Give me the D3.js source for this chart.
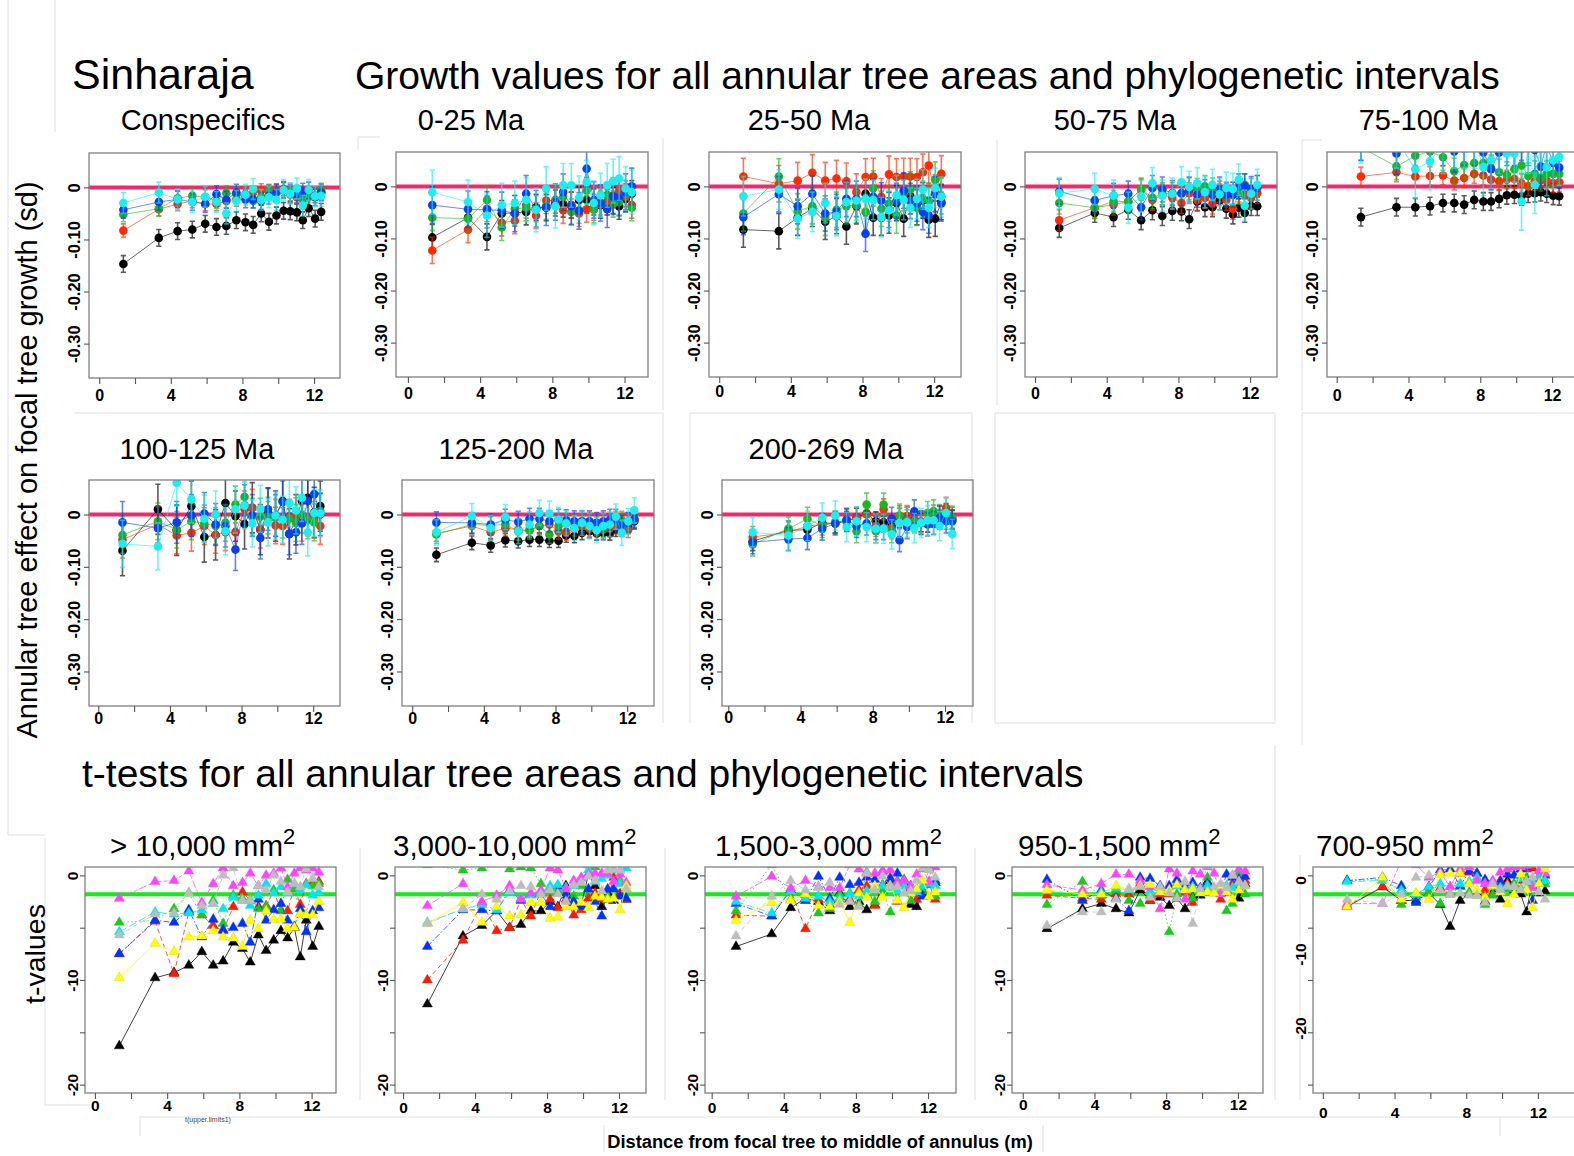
<!DOCTYPE html>
<html><head><meta charset="utf-8">
<script src="https://cdn.jsdelivr.net/npm/d3@7"></script>
<style>body{margin:0;background:#fff}svg{display:block}</style>
</head><body>
<svg id="c" width="1574" height="1156"></svg>
<script>
// ---------------- DATA ----------------
const distance = [1.35,3.33,4.38,5.2,5.92,6.55,7.1,7.66,8.17,8.6,9.05,9.48,9.9,10.3,10.67,11.04,11.37,11.7,12.06,12.4];
const sizeClasses = [">10,000","3,000-10,000","1,500-3,000","950-1,500","700-950"];
const sizeColors = ["#000000","#ff2a00","#1fb41f","#0b3df2","#1aeeee"];
const intervals = ["Conspecifics","0-25 Ma","25-50 Ma","50-75 Ma","75-100 Ma","100-125 Ma","125-200 Ma","200-269 Ma"];
const intervalColors = ["#000000","#ff1a00","#1ec81e","#0033ff","#00e8ee","#ff44ff","#ffff00","#bdbdbd"];
const intervalDash = [null,"5,3","1.5,2.5","6,2,1.5,2","8,3","4,2,8,2",null,"5,3"];
const xTicks = [0,2,4,6,8,10,12];
const xLabelTicks = [0,4,8,12];
const growthYTicks = [0,-0.1,-0.2,-0.3];
const tYTicks = [0,-5,-10,-15,-20];
const tYLabelTicks = [0,-10,-20];
const growthYDomain = [-0.366,0.066];
const tYDomain = [-20.8,0.8];
const zeroEffect = 0;
const tCritical = -1.8;

// growth values: series order = size classes (black, red, green, blue, cyan)
const growthConspecifics = [
 [-0.147,-0.097,-0.084,-0.081,-0.070,-0.076,-0.074,-0.063,-0.067,-0.072,-0.050,-0.066,-0.054,-0.045,-0.046,-0.048,-0.063,-0.040,-0.060,-0.047],
 [-0.083,-0.042,-0.032,-0.026,-0.032,-0.032,-0.026,-0.023,-0.016,-0.010,-0.006,-0.008,-0.006,-0.003,-0.013,-0.019,-0.023,-0.013,-0.016,-0.010],
 [-0.052,-0.041,-0.021,-0.016,-0.019,-0.026,-0.011,-0.013,-0.013,-0.026,-0.019,-0.008,-0.010,-0.005,-0.006,-0.010,-0.019,-0.016,-0.016,-0.006],
 [-0.043,-0.028,-0.023,-0.028,-0.032,-0.013,-0.024,-0.010,-0.023,-0.023,-0.026,-0.016,-0.010,-0.005,-0.011,-0.013,-0.008,-0.006,-0.019,-0.010],
 [-0.030,-0.010,-0.023,-0.028,-0.018,-0.028,-0.050,-0.026,-0.014,-0.003,-0.024,-0.019,-0.024,-0.005,-0.012,-0.002,-0.035,-0.005,-0.017,-0.016]];
const seConspecifics = [0.016,0.013,0.014,0.016,0.02];
const growth0to25 = [
 [-0.098,-0.060,-0.097,-0.052,-0.051,-0.049,-0.040,-0.041,-0.032,-0.034,-0.036,-0.026,-0.026,-0.030,-0.036,-0.030,-0.027,-0.038,-0.024,-0.014],
 [-0.123,-0.083,-0.043,-0.070,-0.066,-0.036,-0.056,-0.027,-0.027,-0.046,-0.036,-0.052,-0.044,-0.040,-0.030,-0.030,-0.017,-0.008,-0.020,-0.036],
 [-0.060,-0.062,-0.026,-0.079,-0.043,-0.041,-0.043,-0.038,-0.026,-0.020,-0.049,-0.046,-0.008,-0.045,-0.034,-0.017,-0.034,-0.030,-0.014,-0.041],
 [-0.036,-0.044,-0.045,-0.046,-0.052,-0.014,-0.043,-0.040,-0.030,-0.011,-0.038,-0.047,0.034,-0.026,-0.032,-0.044,-0.019,-0.022,-0.011,0.000],
 [-0.011,-0.030,-0.056,-0.036,-0.032,-0.026,-0.045,-0.004,-0.038,0.002,0.002,-0.022,0.008,-0.032,-0.017,0.002,0.010,0.015,-0.004,-0.011]];
const se0to25 = [0.025,0.025,0.025,0.035,0.042];
const growth25to50 = [
 [-0.083,-0.086,-0.060,-0.043,-0.068,-0.057,-0.077,-0.038,-0.014,-0.060,-0.060,-0.056,-0.032,-0.062,-0.019,-0.040,-0.027,-0.064,-0.062,-0.030],
 [0.019,0.005,0.011,0.026,0.011,0.015,0.010,-0.011,0.018,0.019,-0.020,0.023,0.018,0.019,0.019,0.018,0.027,0.040,-0.013,0.024],
 [-0.052,0.019,-0.048,-0.038,-0.060,-0.045,-0.038,-0.036,-0.049,-0.004,-0.043,-0.033,-0.056,-0.013,-0.006,-0.041,-0.024,-0.027,0.013,-0.019],
 [-0.059,-0.015,-0.038,-0.014,-0.052,-0.049,-0.024,-0.024,-0.091,-0.020,-0.027,-0.045,-0.028,-0.008,-0.028,-0.033,-0.049,-0.056,-0.015,-0.033],
 [-0.019,-0.006,-0.062,-0.049,-0.032,-0.057,-0.030,-0.027,-0.024,-0.026,-0.059,-0.046,-0.017,-0.026,-0.041,-0.024,-0.006,-0.041,-0.003,-0.020]];
const se25to50 = [0.034,0.035,0.034,0.034,0.038];
const growth50to75 = [
 [-0.080,-0.051,-0.059,-0.045,-0.065,-0.046,-0.057,-0.047,-0.048,-0.063,-0.029,-0.040,-0.040,-0.027,-0.043,-0.054,-0.041,-0.051,-0.038,-0.038],
 [-0.065,-0.041,-0.035,-0.029,-0.006,-0.026,-0.016,-0.022,-0.032,-0.013,-0.026,-0.022,-0.033,-0.010,-0.026,-0.043,-0.010,-0.016,-0.022,-0.013],
 [-0.032,-0.041,-0.029,-0.029,-0.005,-0.022,-0.014,-0.014,-0.014,-0.005,-0.006,0.000,-0.005,-0.016,-0.016,-0.013,-0.013,0.003,-0.006,0.000],
 [-0.010,-0.027,-0.018,-0.014,-0.040,-0.003,-0.006,-0.013,-0.013,-0.006,-0.016,-0.011,-0.016,-0.006,-0.016,-0.016,0.000,0.000,-0.005,-0.003],
 [-0.013,-0.005,-0.018,-0.041,-0.019,0.006,-0.018,-0.014,0.008,-0.001,0.006,-0.011,0.003,-0.015,-0.003,-0.005,0.013,-0.037,-0.014,0.003]];
const se50to75 = [0.018,0.02,0.021,0.024,0.03];
const growth75to100 = [
 [-0.059,-0.040,-0.040,-0.038,-0.032,-0.032,-0.035,-0.026,-0.029,-0.029,-0.024,-0.017,-0.016,-0.019,-0.014,-0.013,-0.011,-0.014,-0.018,-0.019],
 [0.019,0.027,0.019,0.020,0.021,0.011,0.016,0.024,0.021,0.013,0.010,0.013,0.014,0.006,0.000,0.010,0.013,0.011,0.006,0.008],
 [0.075,0.038,0.059,0.067,0.056,0.029,0.041,0.045,0.045,0.035,0.027,0.022,0.033,0.040,0.020,0.024,0.016,0.024,0.024,0.024],
 [0.090,0.063,0.080,0.090,0.080,0.067,0.080,0.080,0.065,0.033,0.065,0.080,0.080,0.090,0.080,0.070,0.038,0.080,0.045,0.036],
 [0.100,0.090,0.033,0.048,0.080,0.090,0.090,0.090,0.037,0.051,0.080,0.063,0.063,-0.029,0.080,0.003,0.080,0.037,0.050,0.057]];
const se75to100 = [0.017,0.018,0.025,0.04,0.055];
const growth100to125 = [
 [-0.069,0.010,-0.030,0.016,-0.043,-0.039,0.022,-0.003,-0.018,0.013,-0.029,0.003,-0.003,0.026,-0.037,-0.010,0.026,0.032,0.004,0.016],
 [-0.048,-0.019,-0.040,-0.035,-0.022,-0.039,-0.034,-0.034,0.010,0.013,-0.029,-0.010,-0.021,-0.022,-0.006,-0.003,-0.016,-0.006,-0.010,-0.022],
 [-0.039,-0.013,-0.029,-0.013,-0.017,-0.022,-0.016,0.019,0.034,-0.004,-0.004,-0.002,-0.006,-0.010,-0.008,-0.016,0.000,-0.011,-0.015,0.006],
 [-0.015,-0.026,-0.015,-0.002,0.002,-0.019,-0.022,-0.067,0.017,-0.002,-0.045,0.010,-0.002,0.024,-0.037,-0.034,-0.017,0.026,0.039,0.000],
 [-0.056,-0.061,0.061,0.029,-0.008,0.000,-0.032,0.010,0.017,-0.017,0.011,-0.015,-0.002,-0.010,0.022,0.008,0.032,-0.034,0.003,0.002]];
const se100to125 = [0.048,0.035,0.035,0.04,0.045];
const growth125to200 = [
 [-0.077,-0.054,-0.059,-0.049,-0.051,-0.048,-0.048,-0.050,-0.050,-0.040,-0.041,-0.035,-0.032,-0.036,-0.035,-0.036,-0.029,-0.026,-0.022,-0.013],
 [-0.036,-0.022,-0.034,-0.026,-0.029,-0.030,-0.022,-0.019,-0.032,-0.034,-0.026,-0.022,-0.027,-0.026,-0.029,-0.026,-0.022,-0.026,-0.029,-0.010],
 [-0.038,-0.019,-0.021,-0.019,-0.032,-0.030,-0.022,-0.038,-0.022,-0.016,-0.016,-0.016,-0.015,-0.022,-0.026,-0.016,-0.011,-0.011,-0.013,-0.010],
 [-0.015,-0.016,-0.019,-0.010,-0.014,-0.008,-0.008,-0.013,-0.010,-0.011,-0.013,-0.013,-0.013,-0.016,-0.013,-0.010,-0.010,-0.022,-0.016,-0.008],
 [-0.034,-0.003,-0.026,-0.005,-0.032,-0.019,0.003,0.002,-0.010,-0.017,-0.026,-0.016,-0.022,-0.030,-0.022,-0.019,-0.004,-0.035,-0.013,0.008]];
const se125to200 = [0.013,0.015,0.017,0.02,0.024];
const growth200to269 = [
 [-0.051,-0.030,-0.029,-0.016,-0.017,-0.013,-0.006,0.002,-0.013,-0.015,-0.022,-0.006,-0.004,-0.013,-0.015,-0.016,-0.006,-0.010,0.003,-0.010],
 [-0.043,-0.034,-0.022,-0.019,-0.016,-0.011,-0.006,0.000,-0.022,0.010,-0.026,-0.003,-0.003,-0.010,-0.013,-0.013,-0.002,-0.003,0.013,-0.006],
 [-0.057,-0.027,-0.008,-0.022,-0.015,-0.011,-0.032,0.019,-0.032,0.019,-0.032,-0.002,-0.013,-0.013,-0.016,0.003,0.006,-0.003,-0.006,-0.006],
 [-0.053,-0.047,-0.045,-0.027,-0.017,-0.010,-0.022,-0.017,-0.026,-0.026,-0.008,-0.049,-0.024,0.006,-0.016,-0.019,-0.016,-0.006,-0.013,-0.013],
 [-0.034,-0.040,-0.022,-0.006,-0.002,-0.024,-0.013,-0.024,-0.027,-0.027,-0.038,-0.016,-0.015,-0.026,-0.016,-0.011,-0.011,-0.022,0.003,-0.037]];
const se200to269 = [0.018,0.02,0.022,0.022,0.028];

// t-values: series order = intervals (black, red, green, blue, cyan, magenta, yellow, gray)
const tOver10000 = [
 [-16.3,-9.8,-9.3,-8.6,-7.3,-8.6,-8.2,-6.4,-7.0,-8.3,-5.7,-7.2,-6.2,-5.3,-6.0,-5.0,-7.8,-4.3,-6.8,-4.9],
 [-7.5,-4.4,-9.4,-3.5,-3.8,-4.8,-5.3,-3.0,-1.6,-2.4,-3.0,-2.9,-1.5,-3.4,-3.4,-1.1,-2.8,-0.8,-0.7,-0.6],
 [-4.5,-4.3,-3.2,-1.7,-3.8,-2.4,-4.6,-1.9,-2.2,-2.4,-3.2,-3.0,-1.4,-3.3,-0.4,-1.3,-3.7,-3.8,-1.0,-0.8],
 [-7.5,-4.3,-4.5,-3.3,-5.9,-4.2,-5.2,-5.0,-4.6,-6.4,-2.3,-4.3,-3.3,-2.7,-4.3,-4.9,-3.2,-5.4,-3.4,-3.1],
 [-5.4,-3.5,-3.7,-3.6,-3.3,-2.7,-3.2,-2.1,-2.4,-2.9,-1.9,-0.8,-1.7,-1.1,-1.7,-0.8,-1.4,-0.9,-1.9,-1.6],
 [-2.2,-0.6,-0.5,0.4,-2.6,-0.8,0.7,-1.0,-0.7,0.2,-1.0,0.0,0.2,0.7,-1.1,0.2,0.7,0.5,0.7,0.3],
 [-9.8,-6.5,-7.3,-5.9,-5.8,-5.3,-5.9,-6.0,-6.8,-4.3,-5.1,-3.4,-4.2,-4.2,-5.1,-5.0,-3.7,-3.8,-3.8,-2.5],
 [-5.7,-3.7,-3.6,-1.7,-2.9,-2.7,0.0,0.7,-2.4,-2.4,-1.0,-1.4,0.0,-0.6,-1.6,-0.8,-1.1,0.6,-0.3,-1.1]];
const t3000to10000 = [
 [-12.3,-5.8,-4.8,-3.4,-5.0,-4.7,-3.4,-3.4,-2.5,-3.0,-1.0,-2.6,-2.8,0.1,-1.0,-3.0,-1.7,-2.4,-1.8,-2.3],
 [-10.0,-6.2,-2.6,-5.3,-5.0,-2.3,-3.9,-1.5,-2.3,-3.1,-2.3,-3.8,-3.3,-2.2,-1.7,-2.3,-2.3,-0.2,-1.8,-2.3],
 [1.0,0.5,0.7,1.2,0.6,0.8,0.7,-0.8,-1.2,-1.5,-1.2,-2.0,-1.0,1.0,0.8,-2.0,-2.0,-1.3,-0.5,-1.3],
 [-6.8,-3.3,-3.3,-3.4,-1.4,-2.4,-1.8,-1.8,-3.0,-1.0,-1.9,-2.5,-3.0,-1.3,-2.5,-3.9,-1.3,-1.3,-2.0,-2.2],
 [-4.5,-3.2,-2.8,-3.3,-1.6,-2.2,-1.9,-1.6,-1.0,-0.9,-1.2,-1.0,-0.3,0.5,-0.6,-0.3,0.0,0.5,-0.8,0.7],
 [-2.9,-0.8,-2.5,-1.9,-1.0,-2.3,-1.7,-1.4,0.7,0.5,-1.3,-0.5,-0.2,0.1,0.2,0.2,0.2,-0.6,0.1,-0.7],
 [-4.6,-2.6,-4.5,-3.0,-3.9,-3.8,-2.6,-2.6,-4.1,-4.0,-3.0,-3.0,-2.6,-3.1,-2.0,-2.1,-2.3,-2.2,-3.3,-1.0],
 [-4.6,-3.2,-1.8,-2.3,-1.5,-1.0,-1.1,-1.8,-1.4,-1.8,-2.5,-0.9,-0.7,-0.1,-0.5,-1.5,0.5,0.6,0.5,-1.3]];
const t1500to3000 = [
 [-6.8,-5.6,-3.1,-2.2,-2.5,-3.4,-1.7,-3.0,-2.5,-3.3,-2.8,-1.0,-0.5,-0.7,-0.7,-2.8,-3.0,-1.7,-0.7,-0.7],
 [-3.8,-3.9,-1.4,-5.1,-2.3,-2.8,-2.3,-2.3,-1.4,-1.0,-2.9,-0.9,-0.3,-2.5,-0.9,-1.4,-2.3,-1.3,-0.9,-2.3],
 [-3.4,1.0,-2.3,-2.4,-3.6,-3.2,-1.8,-1.7,-2.8,0.3,-2.5,-1.5,-3.5,-0.5,-0.4,-2.4,-1.4,-1.5,0.7,-2.0],
 [-2.7,-3.9,-1.4,-2.4,-0.1,-2.2,-0.2,-0.9,-0.7,-0.2,-0.4,0.4,-0.3,0.2,-0.5,-1.0,-1.4,-2.0,-0.8,-0.5],
 [-2.5,-3.6,-1.5,-2.2,-2.0,-2.5,-2.2,-1.8,-2.0,-1.5,-1.2,-1.0,-1.2,-1.5,-1.0,-1.4,-1.6,-1.0,-0.8,-1.0],
 [-2.0,-0.1,-1.2,-0.5,-1.1,-1.2,-1.2,1.0,0.6,0.2,0.2,0.4,0.5,-0.7,-0.5,-1.0,0.1,0.6,-0.6,0.8],
 [-4.3,-2.6,-2.4,-1.8,-2.9,-3.0,-2.5,-4.5,-1.7,-2.1,-1.0,-2.1,-1.0,-2.4,-3.1,-1.7,-1.3,-0.5,-2.0,-1.6],
 [-5.8,-2.0,-0.5,-1.4,-1.2,-0.7,-2.8,-2.5,-3.0,0.2,-1.4,-0.1,-1.0,-1.1,-1.7,-1.5,-0.5,0.7,0.5,-0.2]];
const t950to1500 = [
 [-5.1,-3.2,-2.7,-3.2,-3.6,-1.4,-2.4,-2.1,-2.9,-2.2,-3.2,-2.1,-1.9,-0.6,-1.6,-1.7,-1.1,-0.9,-2.2,-0.8],
 [-1.9,-2.2,-2.3,-1.8,-1.8,-0.8,-2.4,-1.8,-1.8,-0.8,-1.6,-2.6,-1.3,-1.1,-1.6,-2.3,-1.4,-0.8,-1.0,-0.5],
 [-2.8,-0.6,-1.9,-1.4,-2.4,-2.7,-1.9,-1.6,-5.4,-1.8,-1.1,-2.2,-1.6,-0.2,-1.6,-1.6,-3.4,-2.7,0.2,-1.8],
 [-0.4,-2.4,-1.4,-2.2,-3.4,-0.2,-0.3,-1.0,-1.0,-0.4,-1.1,-0.7,-1.2,-0.8,-1.6,-1.6,0.1,-0.2,-0.4,-0.1],
 [-1.5,-1.8,-1.6,-1.2,-1.4,-1.0,-1.5,-1.2,-1.6,-1.0,-1.3,-1.1,-1.4,-1.0,-1.5,-1.3,-1.0,-1.2,-0.8,-1.0],
 [-0.9,-1.4,-0.8,0.1,0.1,-0.5,-1.1,-3.2,0.6,0.2,-2.3,0.4,0.1,0.8,0.2,-1.8,-1.4,0.0,0.6,0.4],
 [-1.4,-1.8,-1.8,-1.0,-1.3,-1.0,-0.9,-1.6,-1.4,-0.9,-1.4,-1.3,-1.7,-1.6,-1.7,-1.0,-1.6,-2.3,-1.4,-1.0],
 [-4.8,-3.5,-3.5,-2.3,-1.3,-1.1,-2.1,-1.1,-1.7,-2.2,-0.6,-4.6,-1.3,0.9,-1.1,-0.8,-1.2,0.0,-0.6,-1.0]];
const t700to950 = [
 [-3.0,-1.1,-2.4,-2.4,-1.7,-2.8,-4.9,-2.4,-1.8,-1.6,-2.5,-1.4,-2.3,-0.5,-1.4,-1.8,-3.5,-0.4,-1.7,-1.5],
 [-2.9,-1.1,-2.4,-1.8,-1.1,-1.2,-1.8,0.2,0.3,0.2,-1.4,-1.8,-0.5,-0.8,-0.8,-0.5,0.6,0.7,-0.3,-0.5],
 [-0.5,-0.4,-2.8,-2.1,-1.7,-2.7,-1.8,-1.1,-1.6,-1.9,-2.8,-1.9,-1.1,-1.3,-0.8,-1.3,-0.2,-0.8,-0.8,-0.8],
 [-0.5,-0.2,-1.0,-2.6,-1.1,0.5,0.6,-1.0,0.4,0.2,-0.4,-0.6,-0.6,0.1,0.0,0.6,0.8,-2.4,-0.4,0.0],
 [-0.6,-0.5,-1.4,-1.8,-1.1,-0.8,-1.1,-0.8,-0.6,-0.2,-0.8,-1.1,-1.2,-1.1,-1.1,-0.3,-1.2,-0.6,-0.1,-0.5],
 [-2.7,-2.7,1.4,1.0,-0.2,0.3,-1.1,0.6,0.8,-0.5,-0.8,-0.5,0.3,0.6,0.8,0.8,0.9,-1.2,0.4,0.2],
 [-3.0,-0.2,-2.3,-1.7,-2.3,0.1,0.2,0.2,-0.8,-1.4,-2.1,-1.0,-1.6,-2.7,-1.8,0.1,-1.4,-3.1,-0.8,0.6],
 [-2.3,-2.7,-1.8,-0.2,0.0,-1.4,-1.8,-1.7,-1.9,-1.9,-2.6,-0.8,-1.4,-1.0,-1.1,-1.4,-0.6,-0.2,-1.6,-2.3]];

// ---------------- LAYOUT ----------------
const FONT = "'Liberation Sans', Arial, Helvetica, sans-serif";
const growthLayout = [
 {vals:growthConspecifics, se:seConspecifics, title:intervals[0], tx:203, ty:130, box:[89,153,340,378], xd:[-0.57,13.45], lab:23},
 {vals:growth0to25, se:se0to25, title:intervals[1], tx:471, ty:130, box:[396,152,648,377], xd:[-0.66,13.3], lab:22},
 {vals:growth25to50, se:se25to50, title:intervals[2], tx:809, ty:130, box:[709,152,961,377], xd:[-0.57,13.5], lab:20},
 {vals:growth50to75, se:se50to75, title:intervals[3], tx:1115, ty:130, box:[1025,152,1277,377], xd:[-0.56,13.5], lab:22},
 {vals:growth75to100, se:se75to100, title:intervals[4], tx:1428, ty:130, box:[1327,152,1579,377], xd:[-0.54,13.5], lab:24},
 {vals:growth100to125, se:se100to125, title:intervals[5], tx:197, ty:459, box:[89,480,340,706], xd:[-0.52,13.5], lab:18},
 {vals:growth125to200, se:se125to200, title:intervals[6], tx:516, ty:459, box:[402,480,654,706], xd:[-0.57,13.5], lab:18},
 {vals:growth200to269, se:se200to269, title:intervals[7], tx:826, ty:459, box:[722,480,973,706], xd:[-0.35,13.55], lab:17}
];
const tLayout = [
 {vals:tOver10000, title:"> "+sizeClasses[0].slice(1)+" mm", tx:110, box:[85,867,336,1093], xd:[-0.55,13.35], lab:18},
 {vals:t3000to10000, title:sizeClasses[1]+" mm", tx:393, box:[395,867,646,1093], xd:[-0.45,13.5], lab:20},
 {vals:t1500to3000, title:sizeClasses[2]+" mm", tx:715, box:[705,867,956,1093], xd:[-0.37,13.55], lab:20},
 {vals:t950to1500, title:sizeClasses[3]+" mm", tx:1018, box:[1012,867,1263,1093], xd:[-0.6,13.4], lab:17},
 {vals:t700to950, title:sizeClasses[4]+" mm", tx:1316, box:[1313,867,1580,1093], xd:[-0.55,14.35], lab:25, shiftLabels:true}
];

const svg = d3.select("#c");
const defs = svg.append("defs");
let clipN = 0;

// faint frame lines of the composited figure
const frames = [[8,0,8,835],[8,835,45,835],[55,0,55,132],[663,138,663,410],[997,140,997,405],[1302,140,1302,410],[1302,140,1322,140],
 [358,137,380,137],[358,137,358,150],[75,413,663,413],[663,413,663,723],[690,413,972,413],[690,413,690,723],[972,413,972,723],
 [995,413,1275,413],[995,413,995,723],[1275,413,1275,723],[995,723,1275,723],[1302,413,1574,413],[1302,413,1302,745],
 [45,838,45,1105],[45,1105,90,1105],[360,848,360,1100],[665,848,665,1100],[975,848,975,1100],[1275,745,1275,1100],[1300,855,1300,1100],
 [140,1117,1574,1117],[140,1117,140,1136],[1500,1117,1500,1136],[604,1125,604,1152],[1043,1125,1043,1152]];
svg.append("g").selectAll("line").data(frames).join("line")
  .attr("x1",d=>d[0]).attr("y1",d=>d[1]).attr("x2",d=>d[2]).attr("y2",d=>d[3])
  .attr("stroke","#e0e0e0").attr("stroke-width",1);

function styleAxisText(sel, size){
  sel.selectAll("text").attr("font-family",FONT).attr("font-weight","bold").attr("font-size",size).attr("fill","#000");
  sel.selectAll(".tick line").attr("stroke","#555").attr("stroke-width",1.1);
  sel.select(".domain").remove();
}
function rotateYLabels(sel, off){
  sel.selectAll("text").attr("x",null).attr("dy",null).attr("text-anchor","middle")
    .attr("transform",`translate(${-off},0) rotate(-90)`);
}

function makeScales(L, yd){
  const [x0,y0,x1,y1] = L.box;
  const x = d3.scaleLinear().domain(L.xd).range([x0,x1]);
  const y = d3.scaleLinear().domain(yd).range([y1,y0]);
  const cid = "cl"+(clipN++);
  defs.append("clipPath").attr("id",cid).append("rect").attr("x",x0).attr("y",y0).attr("width",x1-x0).attr("height",y1-y0);
  return {x,y,cid};
}

function drawXAxis(g, L, x){
  const ax = g.append("g").attr("transform",`translate(0,${L.box[3]})`)
    .call(d3.axisBottom(x).tickValues(xTicks).tickSize(6).tickFormat(d=>xLabelTicks.includes(d)?String(d):""));
  styleAxisText(ax, L.tsize||16);
  ax.selectAll("text").attr("y",L.lab).attr("dy",null);
  return ax;
}

// ---- growth panels
growthLayout.forEach(L=>{
  const {x,y,cid} = makeScales(L, growthYDomain);
  const [x0,y0,x1,y1] = L.box;
  const g = svg.append("g");
  const pg = g.append("g").attr("clip-path",`url(#${cid})`);
  pg.append("line").attr("x1",x0).attr("x2",x1).attr("y1",y(zeroEffect)).attr("y2",y(zeroEffect))
    .attr("stroke","#f0296c").attr("stroke-width",4);
  L.vals.forEach((s,k)=>{
    const col = sizeColors[k];
    const pts = s.map((v,i)=>[distance[i],v]);
    pg.append("path").datum(pts).attr("d",d3.line().x(d=>x(d[0])).y(d=>y(d[1])))
      .attr("fill","none").attr("stroke",col).attr("stroke-opacity",0.6).attr("stroke-width",1);
    pg.append("g").selectAll("path").data(pts).join("path")
      .attr("d",d=>{const xa=x(d[0]), ya=y(d[1]-L.se[k]), yb=y(d[1]+L.se[k]);
        return `M${xa},${ya}V${yb}M${xa-2.6},${ya}H${xa+2.6}M${xa-2.6},${yb}H${xa+2.6}`;})
      .attr("fill","none").attr("stroke",col).attr("stroke-opacity",0.65).attr("stroke-width",1.6);
    pg.append("g").selectAll("circle").data(pts).join("circle")
      .attr("cx",d=>x(d[0])).attr("cy",d=>y(d[1])).attr("r",4.3).attr("fill",col);
  });
  g.append("rect").attr("x",x0).attr("y",y0).attr("width",x1-x0).attr("height",y1-y0)
    .attr("fill","none").attr("stroke","#808080").attr("stroke-width",1.3);
  drawXAxis(g, L, x);
  const ay = g.append("g").attr("transform",`translate(${x0},0)`)
    .call(d3.axisLeft(y).tickValues(growthYTicks).tickSize(5).tickFormat(d=>d===0?"0":"-"+Math.abs(d).toFixed(2)));
  styleAxisText(ay, 16.5);
  rotateYLabels(ay, 9);
  svg.append("text").attr("x",L.tx).attr("y",L.ty).attr("text-anchor","middle")
    .attr("font-family",FONT).attr("font-size",29).text(L.title);
});

// ---- t-test panels
tLayout.forEach(L=>{
  const {x,y,cid} = makeScales(L, tYDomain);
  const [x0,y0,x1,y1] = L.box;
  const g = svg.append("g");
  const pg = g.append("g").attr("clip-path",`url(#${cid})`);
  pg.append("line").attr("x1",x0).attr("x2",x1).attr("y1",y(tCritical)).attr("y2",y(tCritical))
    .attr("stroke","#11ee11").attr("stroke-width",4);
  const tri = d3.symbol(d3.symbolTriangle).size(44);
  L.vals.forEach((s,k)=>{
    const col = intervalColors[k];
    const pts = s.map((v,i)=>[distance[i],v]);
    pg.append("path").datum(pts).attr("d",d3.line().x(d=>x(d[0])).y(d=>y(d[1])))
      .attr("fill","none").attr("stroke",col).attr("stroke-opacity",k===6?0.9:0.75).attr("stroke-width",1)
      .attr("stroke-dasharray",intervalDash[k]);
    pg.append("g").selectAll("path").data(pts).join("path")
      .attr("transform",d=>`translate(${x(d[0])},${y(d[1])})`).attr("d",tri)
      .attr("fill",col).attr("stroke",k===6?"#d8d000":col).attr("stroke-opacity",0.5).attr("stroke-width",0.8);
  });
  g.append("rect").attr("x",x0).attr("y",y0).attr("width",x1-x0).attr("height",y1-y0)
    .attr("fill","none").attr("stroke","#808080").attr("stroke-width",1.3);
  L.tsize = 15.5;
  drawXAxis(g, L, x);
  const ay = g.append("g").attr("transform",`translate(${x0},0)`)
    .call(d3.axisLeft(y).tickValues(tYTicks).tickSize(5)
      .tickFormat(d=>(!L.shiftLabels && tYLabelTicks.includes(d))?(d===0?"0":"-"+Math.abs(d)):""));
  styleAxisText(ay, 15.5);
  rotateYLabels(ay, 7);
  if (L.shiftLabels){
    // this pasted panel carries its tick labels slightly displaced
    const ly = d3.scaleLinear().domain([0,-20]).range([880,1028]);
    const al = g.append("g").attr("transform",`translate(${x0},0)`)
      .call(d3.axisLeft(ly).tickValues(tYLabelTicks).tickSize(0).tickFormat(d=>d===0?"0":"-"+Math.abs(d)));
    styleAxisText(al, 15.5);
    al.selectAll(".tick line").remove();
    rotateYLabels(al, 7);
  }
  const t = svg.append("text").attr("x",L.tx).attr("y",856).attr("font-family",FONT).attr("font-size",29.5);
  t.append("tspan").text(L.title);
  t.append("tspan").attr("dy",-12).attr("font-size",22).text("2");
});

// ---- titles
const T = (x,y,txt,size,extra)=>{const e=svg.append("text").attr("x",x).attr("y",y).attr("font-family",FONT).attr("font-size",size).text(txt); if(extra) extra(e); return e;};
T(72,89,"Sinharaja",43);
T(355,89,"Growth values for all annular tree areas and phylogenetic intervals",39);
T(82,787,"t-tests for all annular tree areas and phylogenetic intervals",39);
svg.append("text").attr("transform","translate(37,460) rotate(-90)").attr("text-anchor","middle")
  .attr("font-family",FONT).attr("font-size",29).text("Annular tree effect on focal tree growth (sd)");
svg.append("text").attr("transform","translate(45,954) rotate(-90)").attr("text-anchor","middle")
  .attr("font-family",FONT).attr("font-size",28.5).text("t-values");
T(820,1148,"Distance from focal tree to middle of annulus (m)",18.3,e=>e.attr("text-anchor","middle").attr("font-weight","bold"));
T(185,1122,"t(upper.limits1)",7,e=>e.attr("fill","#444"));
</script>
</body></html>
